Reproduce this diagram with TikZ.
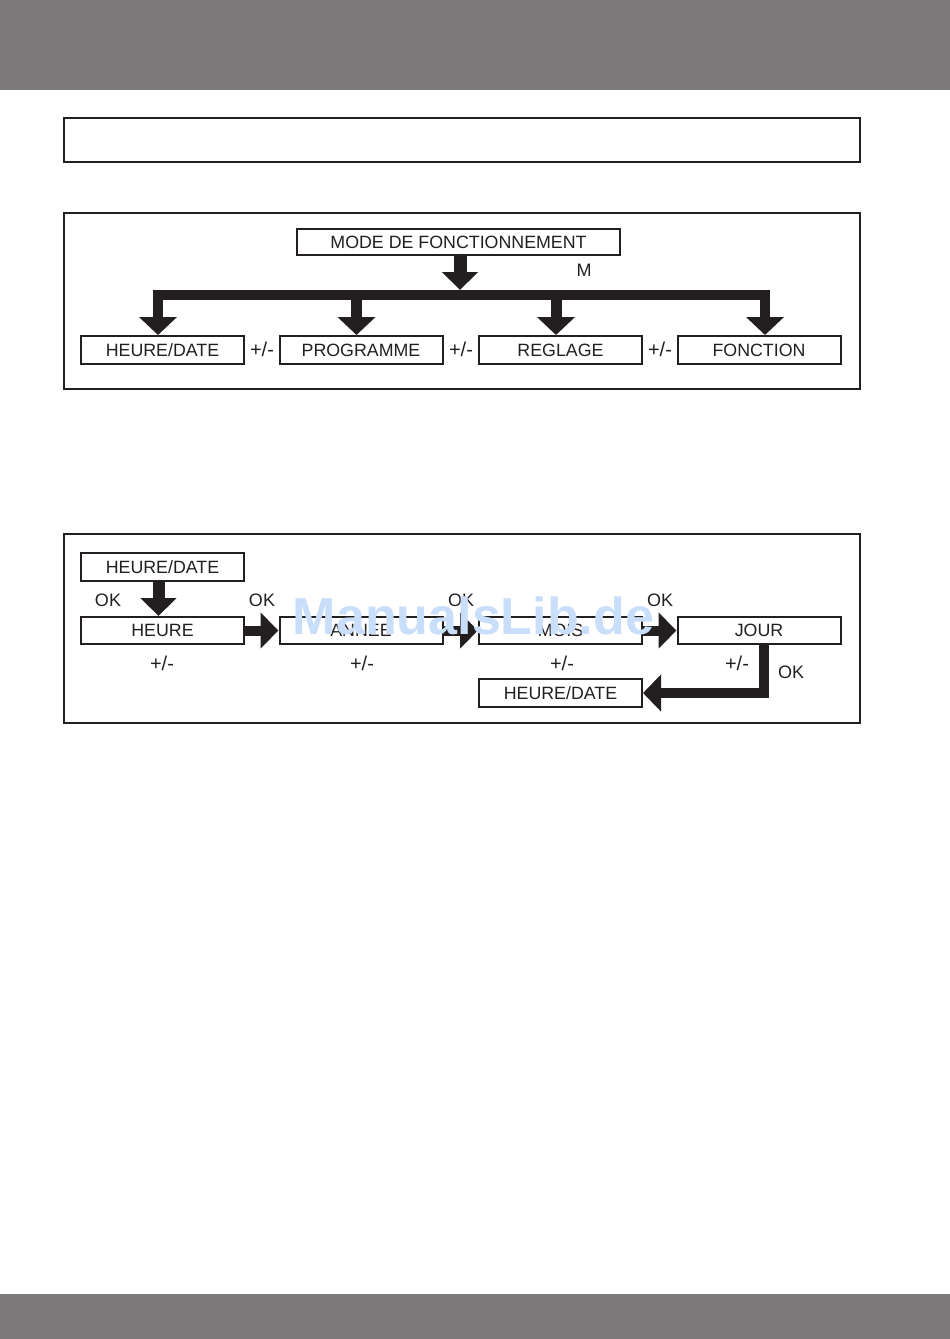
\documentclass[tikz,border=0pt]{standalone}
\usepackage{fontspec}
\setmainfont{Liberation Sans}
\usetikzlibrary{arrows.meta,calc}
\definecolor{band}{RGB}{123,121,122}
\definecolor{ink}{RGB}{35,31,32}
\definecolor{wm}{RGB}{200,222,250}
\tikzset{
  frame/.style={draw=ink, line width=2.5pt},
  box/.style={draw=ink, line width=2pt, minimum width=163pt, minimum height=28pt, inner sep=0pt, font=\fontsize{17.8}{20}\selectfont, text=ink},
  lbl/.style={inner sep=0pt, font=\fontsize{18}{20}\selectfont, text=ink},
  pmlbl/.style={inner sep=0pt, font=\fontsize{20}{22}\selectfont, text=ink},
  fatdown/.style={draw=ink, line width=11pt, line join=miter, -{Triangle[width=37pt,length=18pt]}},
  fatright/.style={draw=ink, line width=10pt, -{Triangle[width=35pt,length=18pt]}},
  watermark/.style={inner sep=0pt, font=\fontsize{52}{60}\selectfont\bfseries, text=wm}
}
\begin{document}
\begin{tikzpicture}[x=1pt,y=-1pt]
\useasboundingbox (0,0) rectangle (950,1339);
\fill[band] (0,0) rectangle (950,90);
\fill[band] (0,1294) rectangle (950,1339);
% frames
\draw[frame] (64,118) rectangle (860,162);
\draw[frame] (64,213) rectangle (860,389);
\draw[frame] (64,534) rectangle (860,723);

% ---- diagram 1
\node[box, minimum width=323pt, minimum height=26pt] (mode) at (458.5,242) {MODE DE FONCTIONNEMENT};
\node[box] (hd) at (162.5,350) {HEURE/DATE};
\node[box] (pg) at (361,350) {PROGRAMME};
\node[box] (rg) at (560.5,350) {REGLAGE};
\node[box] (fn) at (759,350) {FONCTION};
\node[pmlbl] (pm1) at (262,349) {+/-};
\node[pmlbl] (pm2) at (461,349) {+/-};
\node[pmlbl] (pm3) at (660,349) {+/-};
\node[lbl] (m) at (584,270) {M};
\coordinate (bar) at (460,295);
\coordinate (modeb) at ($(mode.south)+(1.5,0)$);
\coordinate (hdt) at ($(hd.north)+(-4.5,0)$);
\coordinate (pgt) at ($(pg.north)+(-4.5,0)$);
\coordinate (rgt) at ($(rg.north)+(-4.5,0)$);
\coordinate (fnt) at ($(fn.north)+(6,0)$);
\draw[fatdown, line width=13pt, -{Triangle[width=35pt,length=18pt]}] (modeb) -- ($(modeb |- bar)+(0,-5)$);
\draw[fatdown, line width=10pt, {Triangle[width=37pt,length=18pt]}-{Triangle[width=37pt,length=18pt]}] (hdt) |- (bar) -| (fnt);
\draw[fatdown] (pgt |- bar) -- (pgt);
\draw[fatdown] (rgt |- bar) -- (rgt);

% ---- diagram 2
\node[box] (hd2) at (162.5,567) {HEURE/DATE};
\node[box, minimum height=27pt] (he) at (162.5,630.5) {HEURE};
\node[box, minimum height=27pt] (an) at (361,630.5) {ANNEE};
\node[box, minimum height=27pt] (mo) at (560.5,630.5) {MOIS};
\node[box, minimum height=27pt] (jo) at (759,630.5) {JOUR};
\node[box] (hd3) at (560.5,693) {HEURE/DATE};
\coordinate (hd2b) at ($(hd2.south)+(-4,0)$);
\coordinate (het) at ($(he.north)+(-4,0)$);
\draw[fatdown, line width=12pt, -{Triangle[width=35pt,length=18pt]}] (hd2b) -- (het);
\draw[fatright] (he.east) -- (an.west);
\draw[fatright] (an.east) -- (mo.west);
\draw[fatright] (mo.east) -- (jo.west);
\coordinate (job) at ($(jo.south)+(5,0)$);
\draw[fatright, line join=miter, -{Triangle[width=36pt,length=18pt]}] (job) |- (hd3.east);
\node[lbl] (ok1) at (108,600) {OK};
\node[lbl] (ok2) at (262,600) {OK};
\node[lbl] (ok3) at (461,600) {OK};
\node[lbl] (ok4) at (660,600) {OK};
\node[lbl] (ok5) at (791,672) {OK};
\node[pmlbl] (pa) at (162,663) {+/-};
\node[pmlbl] (pb) at (362,663) {+/-};
\node[pmlbl] (pc) at (562,663) {+/-};
\node[pmlbl] (pd) at (737,663) {+/-};
% watermark
\node[watermark, anchor=base] (wmk) at (473.5,634) {ManualsLib.de};
\end{tikzpicture}
\end{document}
